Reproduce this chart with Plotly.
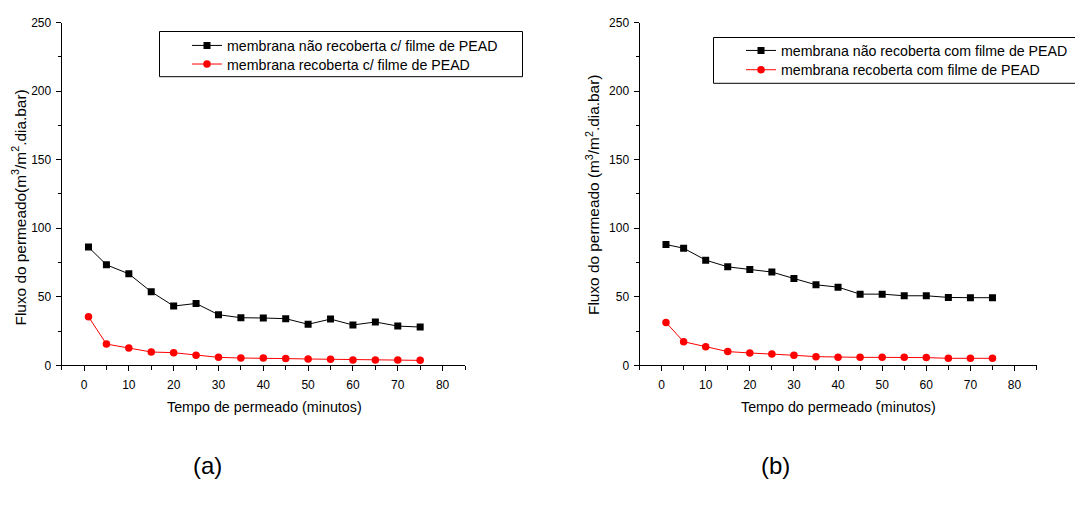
import plotly.graph_objects as go

# Tempo de permeado (minutos)
tempo = [1, 5, 10, 15, 20, 25, 30, 35, 40, 45, 50, 55, 60, 65, 70, 75]

# (a) fluxo do permeado, m3/m2.dia.bar
a_nao_recoberta = [86.2, 73.3, 66.7, 53.6, 43.2, 45.1, 36.9, 34.7, 34.5, 34.0,
                   29.9, 33.7, 29.4, 31.6, 28.6, 27.9]
a_recoberta = [35.4, 15.5, 12.6, 9.7, 9.2, 7.3, 5.8, 5.3, 5.3, 4.9,
               4.6, 4.4, 3.9, 3.9, 3.9, 3.6]

# (b) fluxo do permeado, m3/m2.dia.bar
b_nao_recoberta = [88.1, 85.4, 76.7, 71.8, 69.9, 68.0, 63.3, 58.7, 57.0, 51.9,
                   51.9, 50.7, 50.7, 49.5, 49.3, 49.3]
b_recoberta = [31.3, 17.2, 13.6, 10.0, 9.0, 8.3, 7.3, 6.3, 5.8, 5.8,
               5.8, 5.8, 5.6, 5.1, 5.1, 5.1]

labels_a = ["membrana não recoberta c/ filme de PEAD",
            "membrana recoberta c/ filme de PEAD"]
labels_b = ["membrana não recoberta com filme de PEAD",
            "membrana recoberta com filme de PEAD"]

W, H = 1075, 506
FONT = "Liberation Sans, Arial, sans-serif"


def px_x(p):
    return p / W


def px_y(p):
    return 1 - p / H


fig = go.Figure()

black_marker = dict(symbol="square", size=7, color="black")
red_marker = dict(symbol="circle", size=7.5, color="#ff0000")

series = [
    (a_nao_recoberta, labels_a[0], "black", black_marker, "x", "y", "legend"),
    (a_recoberta, labels_a[1], "#ff0000", red_marker, "x", "y", "legend2"),
    (b_nao_recoberta, labels_b[0], "black", black_marker, "x2", "y2", "legend3"),
    (b_recoberta, labels_b[1], "#ff0000", red_marker, "x2", "y2", "legend4"),
]
for vals, name, color, marker, xa, ya, lg in series:
    fig.add_trace(go.Scatter(x=tempo, y=vals, name=name, mode="lines+markers",
                             line=dict(color=color, width=1), marker=marker,
                             xaxis=xa, yaxis=ya, legend=lg))

xaxis_style = dict(
    range=[-5, 85], tickmode="array", tickvals=list(range(0, 90, 10)),
    showline=True, linecolor="black", linewidth=1, mirror=False,
    ticks="outside", ticklen=5, tickwidth=1, tickcolor="black",
    minor=dict(dtick=5, tick0=0, ticks="outside", ticklen=4, tickcolor="black"),
    showgrid=False, zeroline=False, automargin=False, ticklabelstandoff=3,
    tickfont=dict(family=FONT, size=12, color="black"),
)
yaxis_style = dict(
    range=[0, 250], tickmode="array", tickvals=list(range(0, 300, 50)),
    showline=True, linecolor="black", linewidth=1, mirror=False,
    ticks="outside", ticklen=5, tickwidth=1, tickcolor="black",
    minor=dict(dtick=25, tick0=0, ticks="outside", ticklen=3, tickcolor="black"),
    showgrid=False, zeroline=False, automargin=False, ticklabelstandoff=2,
    tickfont=dict(family=FONT, size=12, color="black"),
)

y_dom = [px_y(365.3), px_y(22.5)]

legend_font = dict(family=FONT, size=14.2, color="black")


def legend_at(x_px, y_px):
    return dict(x=px_x(x_px), y=px_y(y_px), xanchor="left", yanchor="middle",
                borderwidth=0, bgcolor="rgba(0,0,0,0)", font=legend_font,
                itemwidth=30)


fig.update_layout(
    template="none",
    width=W, height=H,
    margin=dict(l=0, r=0, t=0, b=0),
    paper_bgcolor="white", plot_bgcolor="white",
    font=dict(family=FONT, color="black"),
    xaxis=dict(domain=[px_x(61.6), px_x(465)], anchor="y", **xaxis_style),
    yaxis=dict(domain=y_dom, anchor="x", **yaxis_style),
    xaxis2=dict(domain=[px_x(639.5), px_x(1036.6)], anchor="y2", **xaxis_style),
    yaxis2=dict(domain=y_dom, anchor="x2", **yaxis_style),
    legend=legend_at(187, 45.7),
    legend2=legend_at(187, 64.3),
    legend3=legend_at(741, 50.7),
    legend4=legend_at(741, 70),
    showlegend=True,
)

# legend frames
fig.add_shape(type="rect", xref="paper", yref="paper", layer="below",
              x0=px_x(159.5), x1=px_x(522.5), y0=px_y(76.7), y1=px_y(31.5),
              line=dict(color="black", width=1), fillcolor="rgba(0,0,0,0)")
fig.add_shape(type="rect", xref="paper", yref="paper", layer="below",
              x0=px_x(713.5), x1=px_x(1080), y0=px_y(83.3), y1=px_y(37.5),
              line=dict(color="black", width=1), fillcolor="rgba(0,0,0,0)")

x_title_font = dict(family=FONT, size=14.3, color="black")
y_title_font = dict(family=FONT, size=15.4, color="black")
annotations = [
    dict(text="Tempo de permeado (minutos)", x=px_x(264.5), y=px_y(407),
         font=x_title_font),
    dict(text="Tempo do permeado (minutos)", x=px_x(838), y=px_y(407),
         font=x_title_font),
    dict(text="Fluxo do permeado(m<sup>3</sup>/m<sup>2</sup>.dia.bar)",
         x=px_x(19), y=px_y(207.5), textangle=-90, font=y_title_font),
    dict(text="Fluxo do permeado (m<sup>3</sup>/m<sup>2</sup>.dia.bar)",
         x=px_x(592), y=px_y(195), textangle=-90, font=y_title_font),
]
for a in annotations:
    fig.add_annotation(xref="paper", yref="paper", showarrow=False,
                       xanchor="center", yanchor="middle", **a)

for txt, xc in (("(a)", 207), ("(b)", 775)):
    fig.add_annotation(text=txt, xref="paper", yref="paper", x=px_x(xc), y=px_y(465),
                       showarrow=False, xanchor="center", yanchor="middle",
                       font=dict(family=FONT, size=24, color="black"))

fig.write_html("out.html")
